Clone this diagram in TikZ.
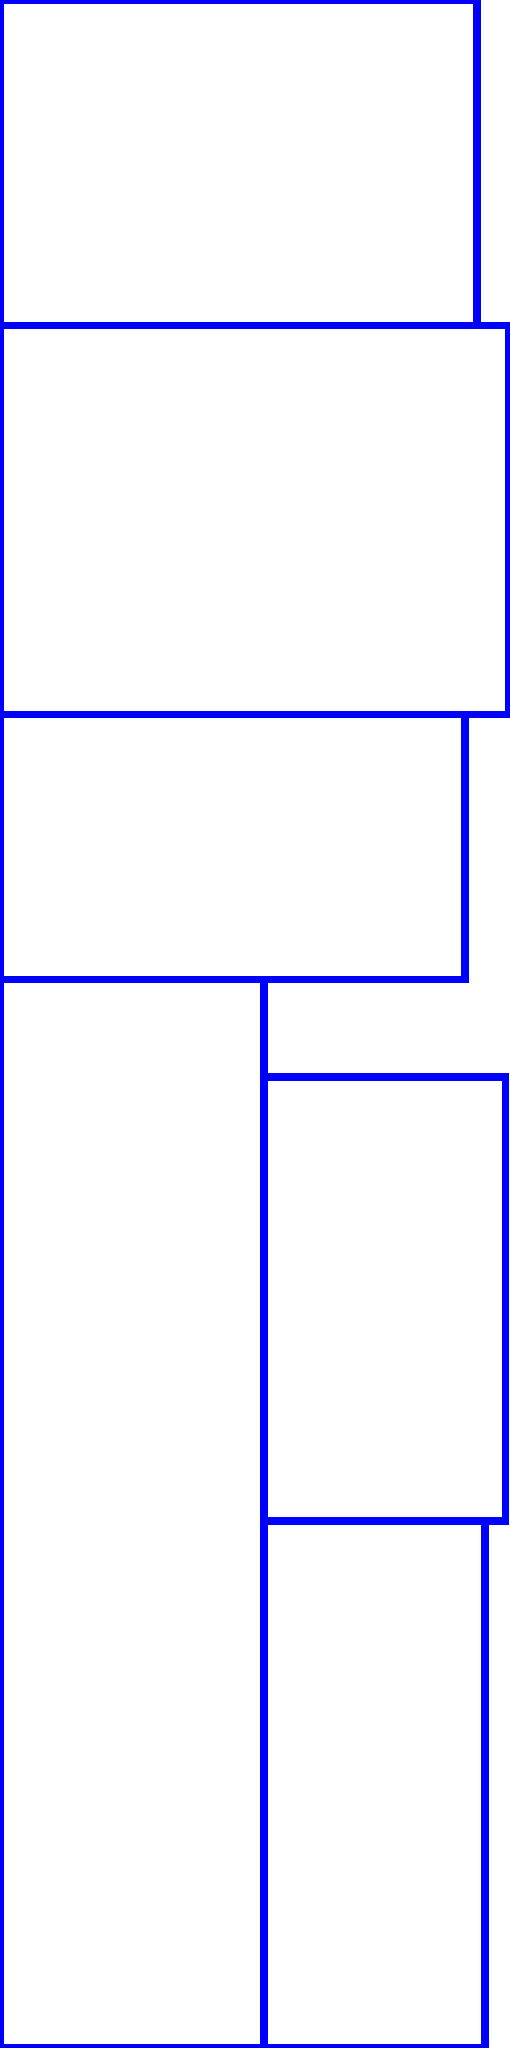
\documentclass[tikz,border=0pt]{standalone}
\usepackage{tikz}

\begin{document}
\begin{tikzpicture}[x=1pt, y=-1pt, panel/.style={draw=blue, line width=7.5pt}]
  \useasboundingbox (0,0) rectangle (509,2048);
  % top row of panels
  \draw[panel] (0,0) rectangle (477,325.5);
  \draw[panel] (0,325.5) rectangle (509,714.5);
  \draw[panel] (0,714.5) rectangle (465,979.5);
  % lower split
  \draw[panel] (0,979.5) rectangle (264,2048);
  \draw[panel] (264,1077) rectangle (505.5,1521);
  \draw[panel] (264,1521) rectangle (485,2048);
\end{tikzpicture}
\end{document}
